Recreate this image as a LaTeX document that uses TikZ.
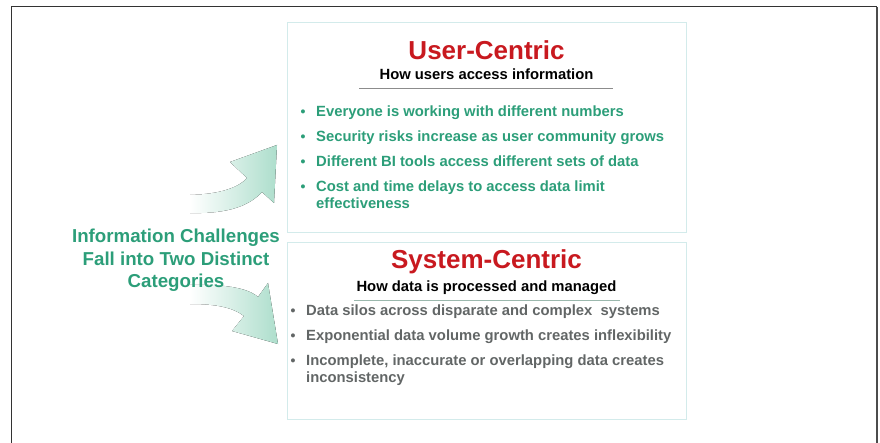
\documentclass[tikz,border=0pt]{standalone}
\usepackage{fontspec}
\setmainfont{Liberation Sans}
\usepackage{tikz}
\usetikzlibrary{positioning}

\definecolor{greentext}{HTML}{2C9E79}
\definecolor{titlered}{HTML}{C8191F}
\definecolor{graytext}{HTML}{626666}
\definecolor{boxline}{HTML}{D3EBEB}
\definecolor{arrowmint}{HTML}{ADDECC}

% lines that hang from the baseline of the first one
\newcommand{\toplines}[2]{\begin{tabular}[t]{@{}#1@{}}#2\end{tabular}}

\tikzset{
    catbox/.style={draw=boxline, line width=0.9pt},
    cattitle/.style={text=titlered, font=\bfseries\fontsize{26}{28}\selectfont, anchor=base, inner sep=0pt},
    catsub/.style={text=black, font=\bfseries\fontsize{14.8}{17}\selectfont, anchor=base, inner sep=0pt},
    greenitem/.style={text=greentext, font=\bfseries\fontsize{14.8}{17}\selectfont, anchor=base west, inner sep=0pt},
    grayitem/.style={text=graytext, font=\bfseries\fontsize{14.8}{17}\selectfont, anchor=base west, inner sep=0pt},
    bulletmark/.style={font=\bfseries\fontsize{14}{16}\selectfont, anchor=base, inner sep=0pt},
    fadearrow/.style={left color=white, middle color=arrowmint, right color=arrowmint}
}

\begin{document}
\begin{tikzpicture}[x=1pt, y=-1pt]
        \useasboundingbox (0,0) rectangle (880,443);
        % frame
        \draw[line width=1pt, black!80] (11,443) -- (11,7) -- (877,7);
        \draw[line width=2pt, black!70] (877,7) -- (877,443);

        % the two boxes
        \draw[catbox] (287,22) rectangle (686,232);
        \draw[catbox] (287,242) rectangle (686,419);

        % arrows
        \fill[fadearrow] (190,195) .. controls (220,194) and (238,188) .. (247,178)
            -- (230,162) -- (277,145) -- (274,203) -- (262,192)
            .. controls (250,205) and (230,214) .. (190,213) -- cycle;
        \fill[fadearrow] (190,285) .. controls (225,284) and (248,288) .. (258,297)
            -- (268,283) -- (278,344) -- (232,331) -- (244,316)
            .. controls (232,307) and (215,304) .. (190,304) -- cycle;

        % left text
        \node[text=greentext, font=\bfseries\fontsize{18.7}{22.3}\selectfont, anchor=base, inner sep=0pt] (info) at (176,243)
            {\toplines{c}{Information Challenges\\Fall into Two Distinct\\Categories}};

        % user-centric
        \node[cattitle] (user) at (486.5,60) {User-Centric};
        \node[catsub] (usersub) at (486.5,80) {How users access information};
        \draw[black!45, line width=0.8pt] (359,88.3) -- (613,88.3);
        \foreach \t [count=\i] in {Everyone is working with different numbers,
                Security risks increase as user community grows,
                Different BI tools access different sets of data,
                Cost and time delays to access data limit\\effectiveness}
            {
            \node[bulletmark, text=greentext] (ub\i) at (303,{116.5+25*(\i-1)}) {•};
            \node[greenitem] (u\i) at (316,{116.5+25*(\i-1)}) {\toplines{l}{\t}};
            }

        % system-centric
        \node[cattitle] (sys) at (486.5,269) {System-Centric};
        \node[catsub] (syssub) at (486.5,291.7) {How data is processed and managed};
        \draw[arrowmint!60!gray, line width=0.8pt] (354,300) -- (620,300);
        \foreach \t [count=\i] in {Data silos across disparate and complex\ \ systems,
                Exponential data volume growth creates inflexibility,
                {Incomplete, inaccurate or overlapping data creates\\inconsistency}}
            {
            \node[bulletmark, text=graytext] (sb\i) at (293,{315.7+24.7*(\i-1)}) {•};
            \node[grayitem] (s\i) at (306,{315.7+24.7*(\i-1)}) {\toplines{l}{\t}};
            }
    \end{tikzpicture}
\end{document}
